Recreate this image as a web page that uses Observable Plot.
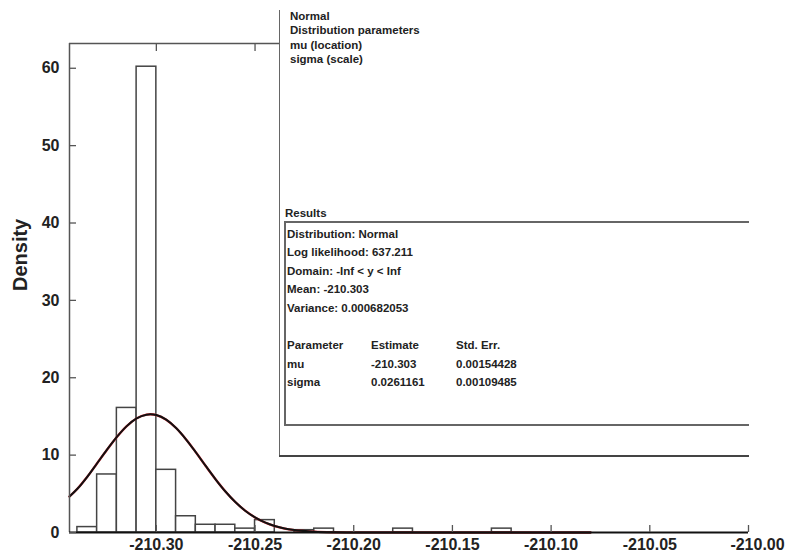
<!DOCTYPE html>
<html>
<head>
<meta charset="utf-8">
<script src="https://cdn.jsdelivr.net/npm/d3@7"></script>
<script src="https://cdn.jsdelivr.net/npm/@observablehq/plot@0.6"></script>
<style>
  html, body { margin: 0; padding: 0; background: white; }
  #wrap { position: relative; width: 788px; height: 558px; overflow: hidden; }
  .panel { position: absolute; background: white; font-family: "Liberation Sans", Arial, sans-serif; font-weight: bold; font-size: 11.5px; color: #222; }
  #outer { left: 279px; top: 10px; width: 507px; height: 447px; border-left: 1.5px solid #666; }
  #outerBottom { position: absolute; left: -1.5px; top: 445px; width: 470px; height: 0; border-top: 2px solid #444; }
  #outerText { position: absolute; left: 10px; top: -1.5px; line-height: 14.6px; white-space: nowrap; }
  #resLabel { position: absolute; left: 5px; top: 194.5px; line-height: 16px; }
  #resBox { position: absolute; left: 4px; top: 210.5px; width: 462.5px; height: 201px; border-top: 2px solid #666; border-left: 2px solid #666; border-bottom: 2px solid #666; }
  #resText { position: absolute; left: 1px; top: 2px; line-height: 18.6px; white-space: nowrap; }
  .row span { display: inline-block; }
  .c1 { width: 84px; } .c2 { width: 85px; }
</style>
</head>
<body>
<div id="wrap">
  <div id="chart"></div>
  <div id="outer" class="panel">
    <div id="outerText"></div>
    <div id="resLabel"></div>
    <div id="resBox"><div id="resText"></div></div>
    <div id="outerBottom"></div>
  </div>
</div>
<script>
// ---- data ----
const xDomain = [-210.344, -210.0];
const yDomain = [0, 63.2];
const xTicks = [-210.30, -210.25, -210.20, -210.15, -210.10, -210.05, -210.00];
const yTicks = [0, 10, 20, 30, 40, 50, 60];

const binWidth = 0.01;
const binStart = [-210.34, -210.33, -210.32, -210.31, -210.30, -210.29, -210.28, -210.27, -210.26, -210.25, -210.23, -210.22, -210.18, -210.13];
const binDensity = [0.7, 7.5, 16.1, 60.2, 8.1, 2.1, 1.0, 1.0, 0.5, 1.6, 0.3, 0.5, 0.5, 0.5];

const curveX = [-210.344, -210.34, -210.335, -210.33, -210.325, -210.32, -210.315, -210.31, -210.305, -210.303, -210.30, -210.295, -210.29, -210.285, -210.28, -210.275, -210.27, -210.265, -210.26, -210.255, -210.25, -210.245, -210.24, -210.235, -210.23, -210.22, -210.21, -210.20, -210.08];
const curveY = [4.65, 5.65, 7.2, 8.95, 10.7, 12.35, 13.75, 14.75, 15.23, 15.28, 15.18, 14.58, 13.5, 12.05, 10.37, 8.6, 6.88, 5.3, 3.94, 2.82, 1.95, 1.3, 0.83, 0.51, 0.31, 0.1, 0.03, 0.01, 0];

const panelLines = ["Normal", "Distribution parameters", "mu (location)", "sigma (scale)"];
const resultsTitle = "Results";
const resultLines = ["Distribution: Normal", "Log likelihood: 637.211", "Domain: -Inf < y < Inf", "Mean: -210.303", "Variance: 0.000682053"];
const paramHeader = ["Parameter", "Estimate", "Std. Err."];
const paramRows = [["mu", "-210.303", "0.00154428"], ["sigma", "0.0261161", "0.00109485"]];
const yLabel = "Density";

// ---- build ----
const bins = binStart.map((s, i) => ({lo: s, hi: s + binWidth, density: binDensity[i]}));
const curve = curveX.map((x, i) => ({x, y: curveY[i]}));
const fmt = d => d.toFixed(2);
const lastTick = xTicks[xTicks.length - 1];

const chart = Plot.plot({
  width: 788, height: 558,
  marginTop: 43, marginRight: 40, marginBottom: 26, marginLeft: 69,
  x: {domain: xDomain},
  y: {domain: yDomain},
  style: {fontFamily: "'Liberation Sans', Arial, sans-serif", fontSize: "16px", fontWeight: "bold", color: "#222", background: "white", overflow: "visible"},
  marks: [
    Plot.rect(bins, {x1: "lo", x2: "hi", y1: 0, y2: "density", fill: "white", stroke: "#444", strokeWidth: 1.5}),
    Plot.line(curve, {x: "x", y: "y", stroke: "#e0303a", strokeWidth: 2.3, curve: "monotone-x"}),
    Plot.line(curve, {x: "x", y: "y", stroke: "#111", strokeWidth: 2.0, curve: "monotone-x"}),
    Plot.ruleX([xDomain[0]], {stroke: "#555", strokeWidth: 1.5}),
    Plot.ruleY([yDomain[1]], {stroke: "#555", strokeWidth: 1.5}),
    Plot.ruleY([0], {stroke: "#111", strokeWidth: 2.2}),
    Plot.axisY({ticks: yTicks, tickSize: -7, tickPadding: 17, label: null, stroke: "#555", strokeWidth: 1.3}),
    Plot.axisX({ticks: xTicks, tickSize: -7, tickPadding: 13, tickFormat: d => d === lastTick ? "" : fmt(d), label: null, stroke: "#555", strokeWidth: 1.3}),
    Plot.axisX({ticks: [lastTick], tickSize: 0, tickPadding: 6, tickFormat: fmt, label: null, dx: 9}),
    Plot.axisX({anchor: "top", ticks: xTicks, tickSize: -7, tickFormat: () => "", label: null, stroke: "#555", strokeWidth: 1.3}),
    Plot.text([yLabel], {frameAnchor: "left", dx: -49, dy: 3, rotate: -90, fontSize: 20, fontWeight: "bold", fill: "#222"})
  ]
});
document.getElementById("chart").appendChild(chart);

const esc = s => s.replace(/&/g, "&amp;").replace(/</g, "&lt;").replace(/>/g, "&gt;");
document.getElementById("outerText").innerHTML = panelLines.map(s => `<div>${esc(s)}</div>`).join("");
document.getElementById("resLabel").textContent = resultsTitle;
let html = resultLines.map(s => `<div>${esc(s)}</div>`).join("") + `<div>&nbsp;</div>`;
[paramHeader, ...paramRows].forEach(r => {
  html += `<div class="row"><span class="c1">${esc(r[0])}</span><span class="c2">${esc(r[1])}</span><span>${esc(r[2])}</span></div>`;
});
document.getElementById("resText").innerHTML = html;
</script>
</body>
</html>
